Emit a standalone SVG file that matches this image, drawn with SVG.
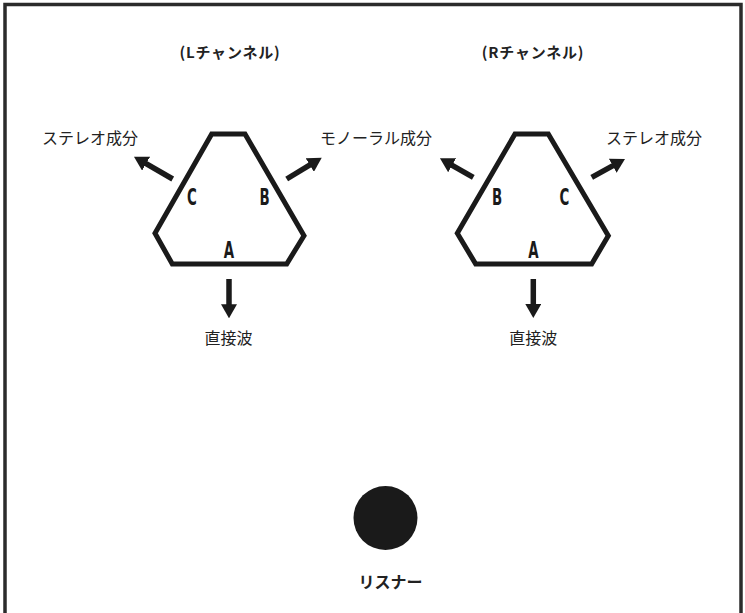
<svg xmlns="http://www.w3.org/2000/svg" width="745" height="613" viewBox="0 0 745 613">
<style>
.frame{fill:none;stroke:#2b2b2b;stroke-width:3.5}
.hex{fill:none;stroke:#1a1a1a;stroke-width:5;stroke-linejoin:miter}
.lbl{font-family:"DejaVu Sans",sans-serif;font-weight:bold;font-size:23px;fill:#1a1a1a;text-anchor:middle}
.jp{font-family:"Noto Sans CJK JP",sans-serif;font-size:16px;fill:#222}
.title{font-family:"Noto Sans CJK JP",sans-serif;font-size:15px;font-weight:bold;fill:#222;text-anchor:middle;letter-spacing:0.8px}
.arr{stroke:#1a1a1a;stroke-width:5.5;fill:none;marker-end:url(#ah)}
</style>
<defs>
<marker id="ah" viewBox="0 0 14 16" markerWidth="14" markerHeight="16" refX="6" refY="8" orient="auto" markerUnits="userSpaceOnUse">
<path d="M0,0 L14,8 L0,16 z" fill="#1a1a1a"/>
</marker>
</defs>
<rect class="frame" x="5" y="4.5" width="736" height="620"/>
<g id="left-speaker">
<text class="title" x="230" y="58">(Lチャンネル)</text>
<polygon class="hex" points="211.7,134 245,134 304,235.7 286.7,264 172.3,264 155,233.3"/>
<text class="lbl" transform="translate(192,205) scale(0.58,1)">C</text>
<text class="lbl" transform="translate(264.5,205) scale(0.58,1)">B</text>
<text class="lbl" transform="translate(229,258) scale(0.58,1)">A</text>
</g>
<g id="right-speaker">
<text class="title" x="533" y="58">(Rチャンネル)</text>
<polygon class="hex" points="515,134 548.3,134 608.3,235.7 591.7,264 475.7,264 457.3,233.3"/>
<text class="lbl" transform="translate(497,205) scale(0.58,1)">B</text>
<text class="lbl" transform="translate(564.5,205) scale(0.58,1)">C</text>
<text class="lbl" transform="translate(533.3,258) scale(0.58,1)">A</text>
</g>
<g id="labels">
<text class="jp" x="42" y="144">ステレオ成分</text>
<text class="jp" x="320" y="144">モノーラル成分</text>
<text class="jp" x="606" y="144">ステレオ成分</text>
<text class="jp" x="228.5" y="344" text-anchor="middle">直接波</text>
<text class="jp" x="533.3" y="344" text-anchor="middle">直接波</text>
</g>
<g id="listener">
<circle cx="385.5" cy="518" r="32" fill="#1a1a1a"/>
<text class="jp" x="390.5" y="588" text-anchor="middle" font-weight="bold">リスナー</text>
</g>
<g id="connectors">
<line class="arr" x1="172.7" y1="179" x2="140.9" y2="160.7"/>
<line class="arr" x1="286.7" y1="179" x2="314.9" y2="161.9"/>
<line class="arr" x1="229" y1="279" x2="229" y2="310.3"/>
<line class="arr" x1="473.3" y1="177.3" x2="446.9" y2="162.3"/>
<line class="arr" x1="591.7" y1="177.3" x2="618" y2="162.8"/>
<line class="arr" x1="533.3" y1="279" x2="533.3" y2="310"/>
</g>
</svg>
